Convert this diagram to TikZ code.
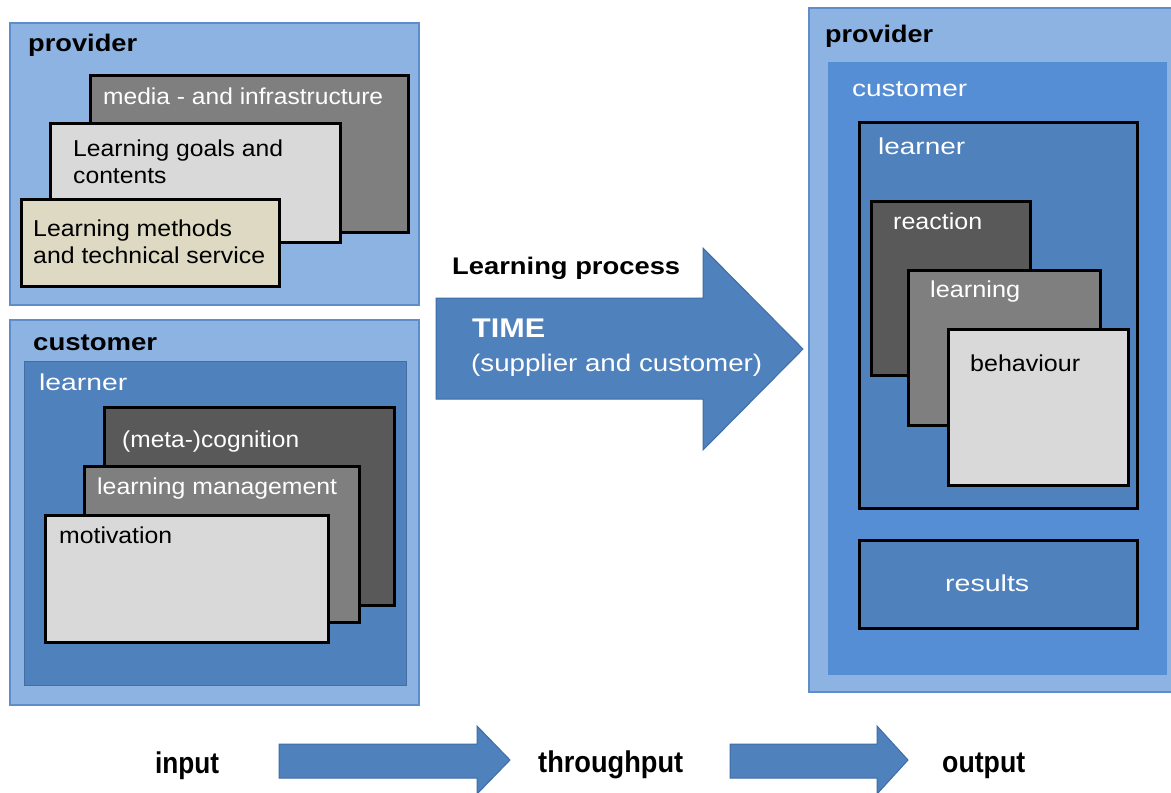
\documentclass[tikz,border=0pt]{standalone}
\usepackage{fontspec}
\setmainfont{Liberation Sans}
\usetikzlibrary{fit}
\definecolor{pvfill}{HTML}{8DB3E2}
\definecolor{pvline}{HTML}{5F8DCB}
\definecolor{lrnblue}{HTML}{4F81BD}
\definecolor{custblue}{HTML}{558ED5}
\definecolor{arrline}{HTML}{3F6CA6}
\definecolor{gdark}{HTML}{595959}
\definecolor{gmid}{HTML}{7F7F7F}
\definecolor{glight}{HTML}{D9D9D9}
\definecolor{beige}{HTML}{DDD9C3}
\newcommand\fw[2]{\resizebox{#1pt}{\height}{#2}}
\newcommand\rf{\fontsize{23}{27}\selectfont}
\newcommand\bff{\fontsize{24}{28}\selectfont\bfseries}
\begin{document}
\begin{tikzpicture}[x=1pt,y=-1pt,
  area/.style={inner sep=0pt, outer sep=0pt},
  outerbox/.style={area, draw=pvline, fill=pvfill, line width=1.5pt},
  blk/.style={area, draw=black, line width=3pt},
  lbl/.style={inner sep=0pt, anchor=west, text height=0.72em, text depth=0.21em},
  wlbl/.style={lbl, text=white},
  mlbl/.style={inner sep=0pt, anchor=west},
  bigarrow/.style={fill=lrnblue, draw=arrline, line width=1pt, line join=miter}]

\useasboundingbox (0,0) rectangle (1171,793);
\fill[white] (0,0) rectangle (1171,793);

% ---------- left top: provider ----------
\node[outerbox, fit={(10,23) (419,305)}] (provL) {};
\node[blk, fill=gmid, fit={(90,75) (408,232)}] (media) {};
\node[blk, fill=glight, fit={(50,123) (340,242)}] (goals) {};
\node[blk, fill=beige, fit={(21,199) (279,286)}] (methods) {};
\node[lbl] (tprovL) at (28,49) {\fw{109}{\bff provider}};
\node[wlbl] (tmedia) at (103,102) {\fw{280}{\rf media - and infrastructure}};
\node[mlbl] (tgoals) at (73,165) {\fw{210}{\rf\begin{tabular}{@{}l@{}}Learning goals and\\contents\end{tabular}}};
\node[mlbl] (tmethods) at (33,245) {\fw{232}{\rf\begin{tabular}{@{}l@{}}Learning methods\\and technical service\end{tabular}}};

% ---------- left bottom: customer ----------
\node[outerbox, fit={(10,320) (419,705)}] (custL) {};
\node[area, fill=lrnblue, draw=lrnblue!85!black, line width=0.8pt, fit={(24,361) (406,685)}] (learnL) {};
\node[blk, fill=gdark, fit={(104,407) (394,605)}] (cog) {};
\node[blk, fill=gmid, fit={(84,466) (359,622)}] (mgmt) {};
\node[blk, fill=glight, fit={(45,515) (328,642)}] (motiv) {};
\node[lbl] (tcustL) at (33,348) {\fw{124}{\bff customer}};
\node[wlbl] (tlearnL) at (39,388) {\fw{88}{\rf learner}};
\node[wlbl] (tcog) at (122,445) {\fw{177}{\rf (meta-)cognition}};
\node[wlbl] (tmgmt) at (97,492) {\fw{240}{\rf learning management}};
\node[lbl] (tmotiv) at (59,541) {\fw{113}{\rf motivation}};

% ---------- right: provider / customer / learner ----------
\node[outerbox, fit={(809,8) (1190,692)}] (provR) {};
\node[area, fill=custblue, fit={(828,62) (1167,675)}] (custR) {};
\node[blk, fill=lrnblue, fit={(859,122) (1137,508)}] (learnR) {};
\node[blk, fill=gdark, fit={(871,201) (1030,375)}] (reaction) {};
\node[blk, fill=gmid, fit={(908,270) (1100,425)}] (learning) {};
\node[blk, fill=glight, fit={(948,329) (1128,485)}] (behaviour) {};
\node[blk, fill=lrnblue, fit={(859,540) (1137,628)}] (results) {};
\node[lbl] (tprovR) at (825,40) {\fw{108}{\bff provider}};
\node[wlbl] (tcustR) at (852,94) {\fw{115}{\rf customer}};
\node[wlbl] (tlearnR) at (878,152) {\fw{87}{\rf learner}};
\node[wlbl] (treaction) at (893,227) {\fw{89}{\rf reaction}};
\node[wlbl] (tlearning) at (930,295) {\fw{90}{\rf learning}};
\node[lbl] (tbehaviour) at (970,369) {\fw{110}{\rf behaviour}};
\node[wlbl] (tresults) at (945,589) {\fw{84}{\rf results}};

% ---------- middle: learning process arrow ----------
\draw[bigarrow] (436,298) -- (703,298) -- (703,248) -- (803,349) -- (703,450) -- (703,399) -- (436,399) -- cycle;
\node[lbl] (tproc) at (452,272) {\fw{228}{\bff Learning process}};
\node[wlbl] (ttime) at (472,335) {\fw{73}{\fontsize{27}{32}\selectfont\bfseries TIME}};
\node[wlbl] (tsupp) at (471,369) {\fw{291}{\fontsize{24}{29}\selectfont (supplier and customer)}};

% ---------- bottom row ----------
\node[lbl] (input) at (155,771) {\fw{64}{\fontsize{30}{36}\selectfont\bfseries input}};
\node[lbl] (through) at (538,770) {\fw{145}{\fontsize{30}{36}\selectfont\bfseries throughput}};
\node[lbl] (output) at (942,770) {\fw{83}{\fontsize{30}{36}\selectfont\bfseries output}};
\draw[bigarrow] (279,744) -- (477,744) -- (477,726) -- (510,760) -- (477,794) -- (477,778) -- (279,778) -- cycle;
\draw[bigarrow] (730,744) -- (877,744) -- (877,726) -- (908,760) -- (877,794) -- (877,778) -- (730,778) -- cycle;
\end{tikzpicture}
\end{document}
